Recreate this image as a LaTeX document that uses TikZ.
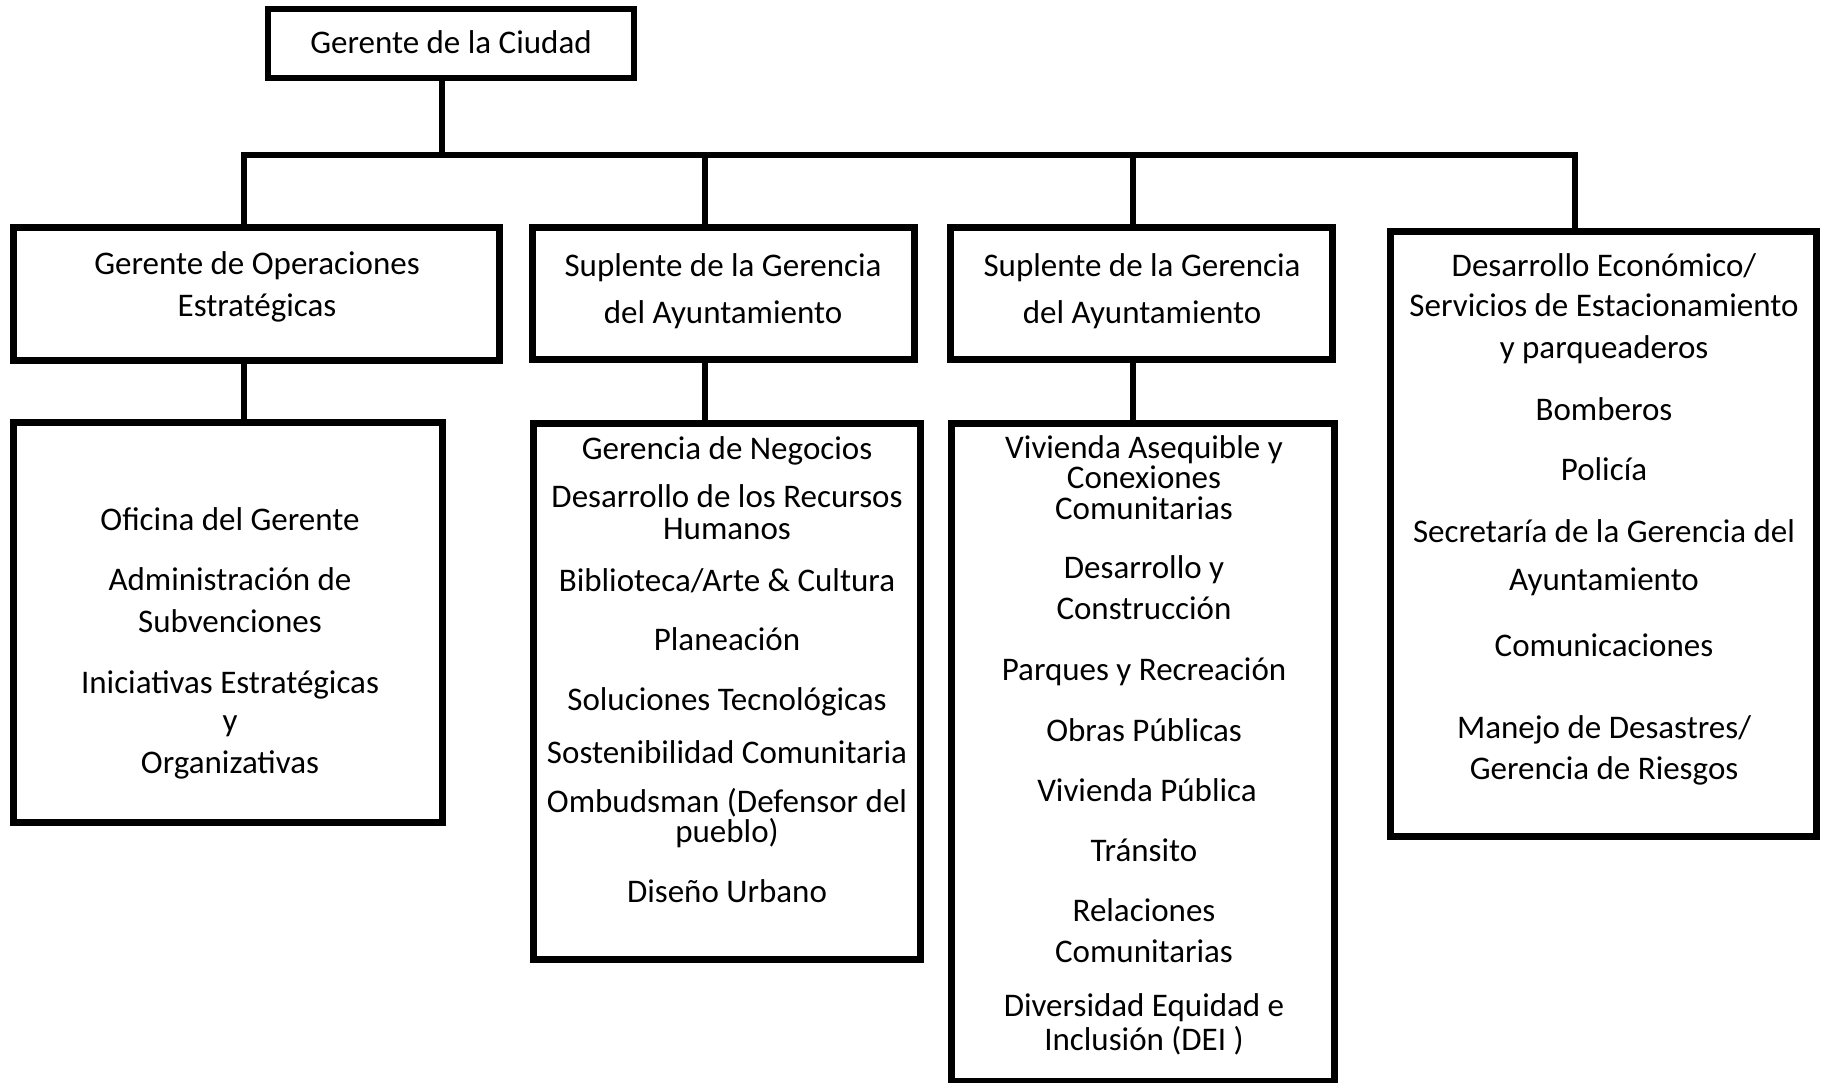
\documentclass[tikz,border=0pt]{standalone}
\usepackage{fontspec}
\setmainfont{Carlito}
\begin{document}
\begin{tikzpicture}[x=1pt,y=-1pt,
  box/.style={draw=black, line width=6.5pt, rectangle, inner sep=0pt, outer sep=0pt},
  conn/.style={draw=black, line width=6pt},
  txt/.style={anchor=base, inner sep=0pt, font=\fontsize{33}{40}\selectfont, text=black}]
\useasboundingbox[fill=white] (0,0) rectangle (1825,1082);

% boxes
\node[box, minimum width=366pt, minimum height=69pt] (top) at (451,43.5) {};
\node[box, minimum width=486pt, minimum height=133pt] (b1) at (256.5,294) {};
\node[box, minimum width=382pt, minimum height=132pt] (b2) at (723.5,293.5) {};
\node[box, minimum width=382pt, minimum height=132pt] (b3) at (1141.5,293.5) {};
\node[box, minimum width=426pt, minimum height=605pt] (b4) at (1603.5,534) {};
\node[box, minimum width=429pt, minimum height=400pt] (b1b) at (228,622.5) {};
\node[box, minimum width=387pt, minimum height=536pt] (b2b) at (727,691.5) {};
\node[box, minimum width=383pt, minimum height=657.5pt] (b3b) at (1143,752.25) {};

% connectors
\coordinate (jt) at (442,155);
\coordinate (bl) at (244,155);
\coordinate (br) at (1575,155);
\coordinate (j2) at (705,155);
\coordinate (j3) at (1133,155);
\draw[conn] (top.south -| jt) -- (jt);
\draw[conn] (b1.north -| bl) -- (bl) -- (br) -- (b4.north -| br);
\draw[conn] (j2) -- (b2.north -| j2);
\draw[conn] (j3) -- (b3.north -| j3);
\draw[conn] (b1.south -| bl) -- (b1b.north -| bl);
\draw[conn] (b2.south -| j2) -- (b2b.north -| j2);
\draw[conn] (b3.south -| j3) -- (b3b.north -| j3);

% texts
\node[txt] (t0) at (451,53) {Gerente de la Ciudad};

\node[txt] (t1a) at (257,274) {Gerente de Operaciones};
\node[txt] (t1b) at (257,316) {Estratégicas};

\node[txt] (t2a) at (723,276) {Suplente de la Gerencia};
\node[txt] (t2b) at (723,323) {del Ayuntamiento};

\node[txt] (t3a) at (1142,276) {Suplente de la Gerencia};
\node[txt] (t3b) at (1142,323) {del Ayuntamiento};

\node[txt] (t4a) at (1604,276) {Desarrollo Económico/};
\node[txt] (t4b) at (1604,316) {Servicios de Estacionamiento};
\node[txt] (t4c) at (1604,358) {y parqueaderos};
\node[txt] (t4d) at (1604,420) {Bomberos};
\node[txt] (t4e) at (1604,480) {Policía};
\node[txt] (t4f) at (1604,542) {Secretaría de la Gerencia del};
\node[txt] (t4g) at (1604,590) {Ayuntamiento};
\node[txt] (t4h) at (1604,656) {Comunicaciones};
\node[txt] (t4i) at (1604,738) {Manejo de Desastres/};
\node[txt] (t4j) at (1604,779) {Gerencia de Riesgos};

\node[txt] (t5a) at (230,530) {Oficina del Gerente};
\node[txt] (t5b) at (230,590) {Administración de};
\node[txt] (t5c) at (230,632) {Subvenciones};
\node[txt] (t5d) at (230,693) {Iniciativas Estratégicas};
\node[txt] (t5e) at (230,731) {y};
\node[txt] (t5f) at (230,773) {Organizativas};

\node[txt] (t6a) at (727,459) {Gerencia de Negocios};
\node[txt] (t6b) at (727,507) {Desarrollo de los Recursos};
\node[txt] (t6c) at (727,539) {Humanos};
\node[txt] (t6d) at (727,591) {Biblioteca/Arte \& Cultura};
\node[txt] (t6e) at (727,650) {Planeación};
\node[txt] (t6f) at (727,710) {Soluciones Tecnológicas};
\node[txt] (t6g) at (727,763) {Sostenibilidad Comunitaria};
\node[txt] (t6h) at (727,812) {Ombudsman (Defensor del};
\node[txt] (t6i) at (727,842) {pueblo)};
\node[txt] (t6j) at (727,902) {Diseño Urbano};

\node[txt] (t7a) at (1144,458) {Vivienda Asequible y};
\node[txt] (t7b) at (1144,488) {Conexiones};
\node[txt] (t7c) at (1144,519) {Comunitarias};
\node[txt] (t7d) at (1144,578) {Desarrollo y};
\node[txt] (t7e) at (1144,619) {Construcción};
\node[txt] (t7f) at (1144,680) {Parques y Recreación};
\node[txt] (t7g) at (1144,741) {Obras Públicas};
\node[txt] (t7h) at (1147,801) {Vivienda Pública};
\node[txt] (t7i) at (1144,861) {Tránsito};
\node[txt] (t7j) at (1144,921) {Relaciones};
\node[txt] (t7k) at (1144,962) {Comunitarias};
\node[txt] (t7l) at (1144,1016) {Diversidad Equidad e};
\node[txt] (t7m) at (1144,1050) {Inclusión (DEI )};
\end{tikzpicture}
\end{document}
